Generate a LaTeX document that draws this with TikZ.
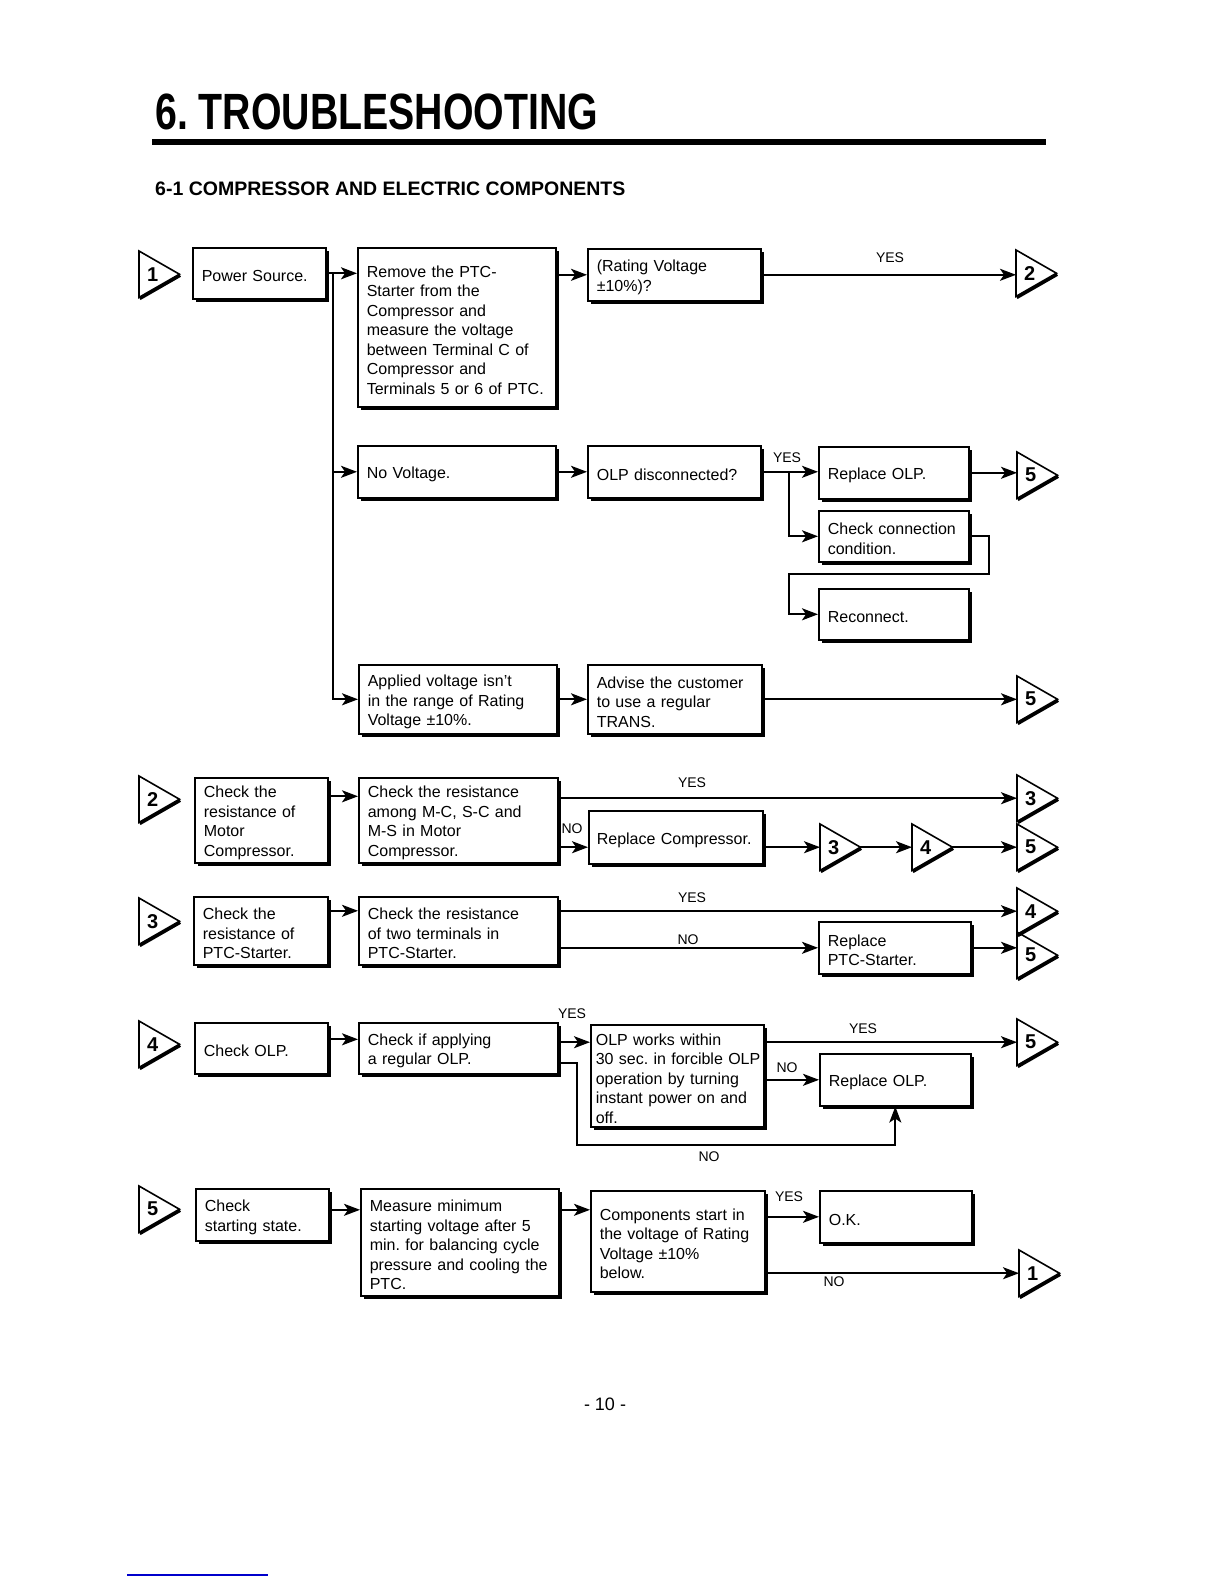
\documentclass[tikz,border=0pt]{standalone}
\usepackage{fontspec}
\setmainfont{Liberation Sans}
\usepackage{graphicx}
\usetikzlibrary{arrows.meta,shadows}
\frenchspacing
\newcommand{\boxfont}{\fontsize{16}{19.5}\selectfont}
\newcommand{\lblfont}{\fontsize{14}{16}\selectfont}
\newcommand{\numfont}{\fontsize{20}{20}\selectfont\bfseries}
\tikzset{
  box/.style={draw, line width=1.6pt, fill=white, anchor=north west, align=left,
    inner xsep=9pt, inner ysep=2pt, font=\boxfont,
    execute at begin node={\rule{0pt}{17pt}},
    drop shadow={shadow xshift=3pt, shadow yshift=-3pt, fill=black, opacity=1}},
  conn/.style={line width=1.8pt, -{Stealth[length=16pt,width=12pt,inset=4pt]}},
  lbl/.style={font=\lblfont, inner sep=1pt},
  pagecon/.style={anchor=north west, minimum width=40pt, minimum height=46pt,
    text width=24pt, inner xsep=8pt, inner ysep=0pt, align=left, font=\numfont},
  tri/.style={line width=1.6pt, line join=miter},
}
\begin{document}
\begin{tikzpicture}[x=1pt,y=-1pt]
  \fill[white] (0,0) rectangle (1224,1584);
  \useasboundingbox (0,0) rectangle (1224,1584);

  % heading
  \node[anchor=base west, inner sep=0pt] (title) at (155,130)
    {\scalebox{0.77}[1]{\fontsize{51}{51}\selectfont\bfseries 6. TROUBLESHOOTING}};
  \draw[line width=5pt] (152,142) -- (1046,142);
  \node[anchor=base west, inner sep=0pt, font=\fontsize{19.5}{20}\selectfont\bfseries] (sub) at (155,195)
    {6-1 COMPRESSOR AND ELECTRIC COMPONENTS};

  % 1: power source
  \node[pagecon] (sec1) at (139,251) {1};
  \node[box, text width=115pt, minimum height=51pt] (power) at (192,247) {Power Source.};
  \node[box, text width=180pt, minimum height=159pt] (remove) at (357,247)
    {Remove the PTC-\\Starter from the\\Compressor and\\measure the voltage\\between Terminal C of\\Compressor and\\Terminals 5 or 6 of PTC.};
  \node[box, text width=155pt, minimum height=52pt] (rating) at (587,248) {(Rating Voltage\\±10\%)?};
  \node[pagecon] (to2) at (1016,250) {2};
  \node[box, text width=180pt, minimum height=52pt] (novolt) at (357,445) {No Voltage.};
  \node[box, text width=155pt, minimum height=52pt] (olpdis) at (587,445) {OLP disconnected?};
  \node[box, text width=132pt, minimum height=52pt] (rolp1) at (818,446) {Replace OLP.};
  \node[pagecon] (to5a) at (1017,452) {5};
  \node[box, text width=132pt, minimum height=51pt] (cconn) at (818,510) {Check connection\\condition.};
  \node[box, text width=132pt, minimum height=51pt] (reconn) at (818,588) {Reconnect.};
  \node[box, text width=180pt, minimum height=69pt] (applied) at (358,664)
    {Applied voltage isn't\\in the range of Rating\\Voltage ±10\%.};
  \node[box, text width=156pt, minimum height=69pt] (advise) at (587,664)
    {Advise the customer\\to use a regular\\TRANS.};
  \node[pagecon] (to5b) at (1017,676) {5};

  \coordinate (j1) at (333,272);
  \coordinate (j2) at (789,471);
  \coordinate (j3) at (789,574);
  \draw[conn] (power.east) -- (power.east -| remove.west);
  \draw[conn] (j1) |- (novolt.west);
  \draw[conn] (j1) |- (applied.west);
  \draw[conn] (remove.east |- rating.west) -- (rating.west);
  \draw[conn] (rating.east) -- (rating.east -| to2.west);
  \node[lbl] (yes1) at (890,258) {YES};
  \draw[conn] (novolt.east) -- (olpdis.west);
  \draw[conn] (olpdis.east) -- (olpdis.east -| rolp1.west);
  \draw[conn] (j2) |- (cconn.west);
  \node[lbl] (yes2) at (787,458) {YES};
  \draw[conn] (rolp1.east) -- (rolp1.east -| to5a.west);
  \draw[conn] (cconn.east) -- ++(19,0) |- (j3) |- (reconn.west);
  \draw[conn] (applied.east) -- (advise.west);
  \draw[conn] (advise.east) -- (advise.east -| to5b.west);

  % 2: motor compressor
  \node[pagecon] (sec2) at (139,776) {2};
  \node[box, text width=115pt, minimum height=85pt] (cmotor) at (194,777)
    {Check the\\resistance of\\Motor\\Compressor.};
  \node[box, text width=181pt, minimum height=85pt] (cres) at (358,777)
    {Check the resistance\\among M-C, S-C and\\M-S in Motor\\Compressor.};
  \node[box, inner xsep=8pt, text width=158pt, minimum height=53pt] (rcomp) at (588,810) {Replace Compressor.};
  \node[pagecon] (to3a) at (1017,775) {3};
  \node[pagecon] (to3b) at (820,824) {3};
  \node[pagecon] (to4b) at (912,824) {4};
  \node[pagecon] (to5c) at (1017,824) {5};
  \draw[conn] ([yshift=24pt]cmotor.east) -- ([yshift=24pt]cmotor.east -| cres.west);
  \draw[conn] (cres.east |- to3a.west) -- (to3a.west);
  \node[lbl] (yes3) at (692,783) {YES};
  \draw[conn] (cres.east |- to3b.west) -- (rcomp.west |- to3b.west);
  \node[lbl] (no3) at (572,829) {NO};
  \draw[conn] (rcomp.east |- to3b.west) -- (to3b.west);
  \draw[conn] (to3b.east) -- (to4b.west);
  \draw[conn] (to4b.east) -- (to5c.west);

  % 3: PTC-starter
  \node[pagecon] (sec3) at (139,898) {3};
  \node[box, text width=116pt, minimum height=68pt] (cptc) at (193,896)
    {Check the\\resistance of\\PTC-Starter.};
  \node[box, text width=181pt, minimum height=68pt] (cterm) at (358,896)
    {Check the resistance\\of two terminals in\\PTC-Starter.};
  \node[box, text width=134pt, minimum height=52pt] (rptc) at (818,921) {Replace\\PTC-Starter.};
  \node[pagecon] (to4c) at (1017,888) {4};
  \node[pagecon] (to5d) at (1017,932) {5};
  \draw[conn] ([yshift=20pt]cptc.east) -- ([yshift=20pt]cptc.east -| cterm.west);
  \draw[conn] (cterm.east |- to4c.west) -- (to4c.west);
  \node[lbl] (yes4) at (692,898) {YES};
  \draw[conn] (cterm.east |- rptc.west) -- (rptc.west);
  \node[lbl] (no4) at (688,940) {NO};
  \draw[conn] (rptc.east) -- (rptc.east -| to5d.west);

  % 4: OLP
  \node[pagecon] (sec4) at (139,1021) {4};
  \node[box, text width=115pt, minimum height=51pt] (colp) at (194,1022) {Check OLP.};
  \node[box, text width=181pt, minimum height=51pt] (cif) at (358,1022) {Check if applying\\a regular OLP.};
  \node[box, inner xsep=5pt, text width=163pt, minimum height=102pt] (olpw) at (590,1024)
    {OLP works within\\\mbox{30 sec. in forcible OLP}\\operation by turning\\instant power on and\\off.};
  \node[box, text width=133pt, minimum height=52pt] (rolp2) at (819,1053) {Replace OLP.};
  \node[pagecon] (to5e) at (1017,1019) {5};
  \coordinate (j4) at (577,1145);
  \draw[conn] ([yshift=9pt]colp.east) -- ([yshift=9pt]colp.east -| cif.west);
  \draw[conn] (cif.east |- to5e.west) -- (olpw.west |- to5e.west);
  \node[lbl] (yes5) at (572,1014) {YES};
  \draw[conn] (olpw.east |- to5e.west) -- (to5e.west);
  \node[lbl] (yes6) at (863,1029) {YES};
  \draw[conn] (olpw.east |- rolp2.west) -- (rolp2.west);
  \node[lbl] (no5) at (787,1068) {NO};
  \draw[conn] ([yshift=-15pt]cif.east) -| (j4) -| (rolp2.south);
  \node[lbl] (no6) at (709,1157) {NO};

  % 5: starting state
  \node[pagecon] (sec5) at (139,1186) {5};
  \node[box, text width=115pt, minimum height=52pt] (cstart) at (195,1188) {Check\\starting state.};
  \node[box, text width=180pt, minimum height=107pt] (measure) at (360,1188)
    {Measure minimum\\starting voltage after 5\\min. for balancing cycle\\pressure and cooling the\\PTC.};
  \node[box, text width=156pt, minimum height=101pt] (comp) at (590,1190)
    {Components start in\\the voltage of Rating\\Voltage ±10\%\\below.};
  \node[box, text width=134pt, minimum height=52pt] (okbox) at (819,1190) {O.K.};
  \node[pagecon] (to1) at (1019,1250) {1};
  \draw[conn] ([yshift=5pt]cstart.east) -- ([yshift=5pt]cstart.east -| measure.west);
  \draw[conn] ([yshift=5pt]cstart.east -| measure.east) -- ([yshift=5pt]cstart.east -| comp.west);
  \draw[conn] (comp.east |- okbox.west) -- (okbox.west);
  \node[lbl] (yes7) at (789,1197) {YES};
  \draw[conn] (comp.east |- to1.west) -- (to1.west);
  \node[lbl] (no7) at (834,1282) {NO};

  % page connectors
  \foreach \t in {sec1,sec2,sec3,sec4,sec5,to1,to2,to3a,to3b,to4b,to4c,to5a,to5b,to5c,to5d,to5e}{
    \draw[tri] (\t.north west) -- (\t.east) -- (\t.south west) -- cycle;
    \draw[line width=3pt] ([shift={(0.8pt,-1.3pt)}]\t.east) -- ([shift={(0.8pt,-1.3pt)}]\t.south west);
  }

  \node[font=\fontsize{18}{20}\selectfont] (pgno) at (605,1404) {- 10 -};
  \draw[blue!80!black, line width=1.5pt] (127,1575) -- (268,1575);
\end{tikzpicture}
\end{document}
